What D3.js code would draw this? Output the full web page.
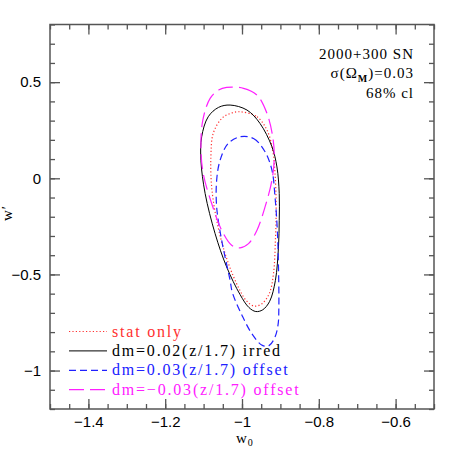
<!DOCTYPE html>
<html>
<head>
<meta charset="utf-8">
<script src="https://cdn.jsdelivr.net/npm/d3@7"></script>
<style>
  body { margin: 0; background: #fff; }
  .tick text { font-family: "Liberation Sans", Arial, sans-serif; font-size: 15px; fill: #000; }
  .lbl { font-family: "Liberation Serif", "Times New Roman", serif; font-size: 15px; letter-spacing: 1px; }
  .leg { font-family: "Liberation Serif", "Times New Roman", serif; font-size: 16px; letter-spacing: 1.8px; }
</style>
</head>
<body>
<div id="chart"></div>
<script>
// 68% contours in (w0, w') plane
const statOnly = [
  [-1.005, 0.346], [-0.961, 0.320], [-0.935, 0.251], [-0.920, 0.146], [-0.914, 0.025],
  [-0.911, -0.149], [-0.913, -0.322], [-0.918, -0.496], [-0.929, -0.600], [-0.948, -0.652],
  [-0.968, -0.665], [-0.988, -0.638], [-1.014, -0.548], [-1.044, -0.392], [-1.066, -0.218],
  [-1.079, -0.045], [-1.081, 0.111], [-1.075, 0.233], [-1.053, 0.311], [-1.031, 0.337]
];
const irred = [
  [-1.031, 0.381], [-0.987, 0.355], [-0.953, 0.285], [-0.922, 0.164], [-0.909, 0.059],
  [-0.903, -0.079], [-0.903, -0.218], [-0.905, -0.357], [-0.913, -0.531], [-0.928, -0.640],
  [-0.946, -0.684], [-0.964, -0.693], [-0.982, -0.672], [-1.005, -0.605], [-1.040, -0.461],
  [-1.070, -0.288], [-1.096, -0.079], [-1.107, 0.094], [-1.105, 0.216], [-1.088, 0.320],
  [-1.061, 0.369]
];
const offsetPos = [
  [-1.005, 0.216], [-0.970, 0.207], [-0.940, 0.138], [-0.922, 0.042], [-0.914, -0.097],
  [-0.908, -0.270], [-0.905, -0.461], [-0.904, -0.670], [-0.906, -0.760], [-0.914, -0.825],
  [-0.929, -0.869], [-0.947, -0.869], [-0.973, -0.812], [-0.999, -0.717], [-1.025, -0.595],
  [-1.031, -0.531], [-1.053, -0.322], [-1.066, -0.149], [-1.066, -0.010], [-1.057, 0.094],
  [-1.036, 0.181]
];
const offsetNeg = [
  [-1.040, 0.473], [-0.996, 0.468], [-0.961, 0.433], [-0.935, 0.338], [-0.920, 0.216],
  [-0.916, 0.111], [-0.922, -0.010], [-0.940, -0.149], [-0.961, -0.270], [-0.983, -0.340],
  [-1.005, -0.362], [-1.027, -0.348], [-1.053, -0.270], [-1.079, -0.131], [-1.101, 0.025],
  [-1.107, 0.164], [-1.102, 0.303], [-1.083, 0.416], [-1.061, 0.459]
];

const seriesNames = ["stat only", "dm=0.02(z/1.7) irred", "dm=0.03(z/1.7) offset", "dm=\u22120.03(z/1.7) offset"];
const seriesData = [statOnly, irred, offsetPos, offsetNeg];
const seriesColors = ["#ff3030", "#000000", "#2020ff", "#ff20ff"];
const seriesDash = ["1.2,2.2", null, "7,4", "15,6"];
const seriesWidth = [1.2, 1.0, 1.2, 1.2];

const xTicks = [-1.4, -1.2, -1, -0.8, -0.6];
const xTickLabels = ["\u22121.4", "\u22121.2", "\u22121", "\u22120.8", "\u22120.6"];
const yTicks = [-1, -0.5, 0, 0.5];
const yTickLabels = ["\u22121", "\u22120.5", "0", "0.5"];
const infoLines = ["2000+300 SN", "sigma", "68% cl"];

let margin = { top: 24.5, left: 50, right: 24, bottom: 49 },
  W = 458, H = 458,
  width = W - margin.left - margin.right,
  height = H - margin.top - margin.bottom;

let svg = d3.select("#chart").append("svg")
  .attr("width", W).attr("height", H);

let g = svg.append("g")
  .attr("transform", "translate(" + margin.left + "," + margin.top + ")");

let xScale = d3.scaleLinear().domain([-1.5, -0.5]).range([0, width]);
let yScale = d3.scaleLinear().domain([-1.2, 0.8]).range([height, 0]);

let xMinor = d3.range(-1.5, -0.499, 0.05);
let yMinor = d3.range(-1.2, 0.801, 0.1);

function styleAxis(sel) {
  sel.select(".domain").remove();
  sel.selectAll(".tick line").attr("stroke", "#555").attr("stroke-width", 1.3);
}

// minor ticks on all four sides
g.append("g").attr("transform", "translate(0," + height + ")")
  .call(d3.axisBottom(xScale).tickValues(xMinor).tickSize(-5).tickFormat("")).call(styleAxis);
g.append("g")
  .call(d3.axisTop(xScale).tickValues(xMinor).tickSize(-5).tickFormat("")).call(styleAxis);
g.append("g")
  .call(d3.axisLeft(yScale).tickValues(yMinor).tickSize(-5).tickFormat("")).call(styleAxis);
g.append("g").attr("transform", "translate(" + width + ",0)")
  .call(d3.axisRight(yScale).tickValues(yMinor).tickSize(-5).tickFormat("")).call(styleAxis);

// major ticks
g.append("g").attr("transform", "translate(0," + height + ")")
  .call(d3.axisBottom(xScale).tickValues(xTicks).tickSize(-10).tickPadding(7)
    .tickFormat((d, i) => xTickLabels[i])).call(styleAxis);
g.append("g")
  .call(d3.axisTop(xScale).tickValues(xTicks).tickSize(-10).tickFormat("")).call(styleAxis);
g.append("g")
  .call(d3.axisLeft(yScale).tickValues(yTicks).tickSize(-10).tickPadding(9)
    .tickFormat((d, i) => yTickLabels[i])).call(styleAxis);
g.append("g").attr("transform", "translate(" + width + ",0)")
  .call(d3.axisRight(yScale).tickValues(yTicks).tickSize(-10).tickFormat("")).call(styleAxis);

// frame
g.append("rect")
  .attr("width", width).attr("height", height)
  .attr("fill", "none").attr("stroke", "#555").attr("stroke-width", 1.5);

let line = d3.line()
  .x(d => xScale(d[0]))
  .y(d => yScale(d[1]))
  .curve(d3.curveCatmullRomClosed.alpha(0.5));

g.selectAll(".contour")
  .data(seriesData)
  .enter().append("path")
  .attr("class", "contour")
  .attr("d", d => line(d))
  .attr("fill", "none")
  .attr("stroke", (d, i) => seriesColors[i])
  .attr("stroke-width", (d, i) => seriesWidth[i])
  .attr("stroke-dasharray", (d, i) => seriesDash[i]);

// legend
let legend = g.append("g").attr("transform", "translate(19,307)");
seriesNames.forEach((name, i) => {
  let row = legend.append("g").attr("transform", "translate(0," + (i * 19.4) + ")");
  row.append("line")
    .attr("x1", 0).attr("x2", 38)
    .attr("stroke", seriesColors[i])
    .attr("stroke-width", seriesWidth[i])
    .attr("stroke-dasharray", seriesDash[i]);
  row.append("text")
    .attr("class", "leg")
    .attr("x", 43).attr("y", 5)
    .attr("fill", seriesColors[i])
    .text(name);
});

// info text top right
let info = g.append("text").attr("class", "lbl").attr("text-anchor", "end");
info.append("tspan").attr("x", 364).attr("y", 34).text(infoLines[0]);
let s = info.append("tspan").attr("x", 364).attr("y", 53);
s.append("tspan").text("\u03c3(\u03a9");
s.append("tspan").attr("font-size", "10px").attr("font-weight", "bold").attr("dy", 4).text("M");
s.append("tspan").attr("dy", -4).text(")=0.03");
info.append("tspan").attr("x", 364).attr("y", 73).text(infoLines[2]);

// axis titles
let xt = svg.append("text").attr("class", "lbl")
  .attr("x", 236).attr("y", 443);
xt.append("tspan").text("w");
xt.append("tspan").attr("font-size", "10px").attr("dy", 3).text("0");

svg.append("text").attr("class", "lbl")
  .attr("transform", "translate(12,213) rotate(-90)")
  .attr("text-anchor", "middle")
  .text("w\u2032");
</script>
</body>
</html>
